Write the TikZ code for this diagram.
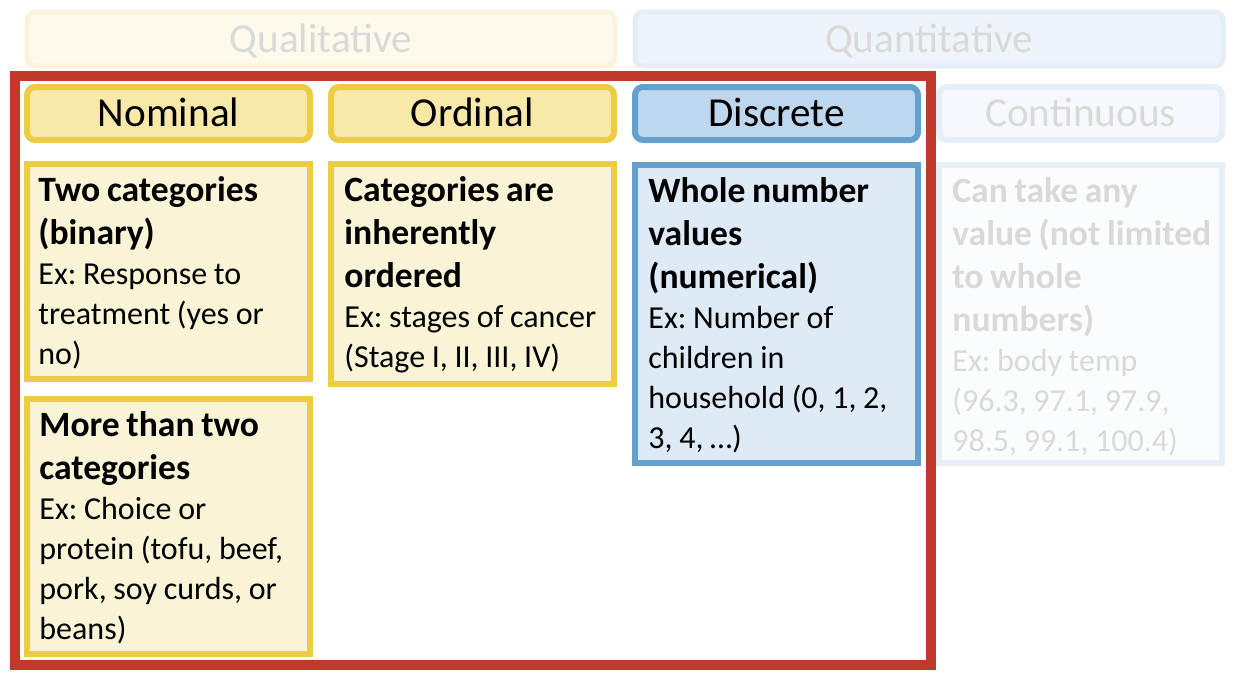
\documentclass[tikz,border=0pt]{standalone}
\usepackage{fontspec}
\setmainfont{Carlito}
\usepackage{xcolor}
\usetikzlibrary{positioning}
\frenchspacing
\definecolor{gold}{RGB}{237,204,69}
\definecolor{goldfill}{RGB}{248,233,169}
\definecolor{goldpale}{RGB}{250,244,214}
\definecolor{steel}{RGB}{101,159,205}
\definecolor{steelfill}{RGB}{189,215,238}
\definecolor{steelpale}{RGB}{222,235,247}
\definecolor{brick}{RGB}{192,57,43}
\definecolor{qualline}{RGB}{251,244,220}
\definecolor{qualfill}{RGB}{253,249,235}
\definecolor{quanline}{RGB}{229,237,247}
\definecolor{quanfill}{RGB}{239,244,250}
\definecolor{contline}{RGB}{230,238,247}
\definecolor{contfill}{RGB}{245,248,252}
\definecolor{contpale}{RGB}{250,252,254}
\definecolor{fadetext}{RGB}{217,217,217}
\newcommand{\boldpart}[1]{{\bfseries\fontsize{17.8}{21.5}\selectfont #1\par}}
\newcommand{\expart}[1]{{\fontsize{16}{20}\selectfont #1\par}}

\begin{document}
\begin{tikzpicture}[x=0.5pt, y=-0.5pt, node distance={152pt}, on grid=true,
  head/.style = {draw, rounded corners=4pt, line width=3pt, outer sep=0pt, inner sep=0pt,
    minimum width=141.5pt, minimum height=26.5pt,
    font=\fontsize{20.6}{24}\selectfont, text height=13.2pt, text depth=0pt},
  cell/.style = {draw, line width=3pt, outer sep=0pt, inner sep=0pt,
    minimum width=141.5pt, anchor=north},
  celltext/.style = {anchor=base west, inner sep=0pt, text width=138pt, align=left},
  yel/.style = {draw=gold, fill=goldfill},
  yelpale/.style = {draw=gold, fill=goldpale},
  blu/.style = {draw=steel, fill=steelfill},
  blupale/.style = {draw=steel, fill=steelpale}]
  \useasboundingbox (0,0) rectangle (1233,680);

  \node[head, draw=qualline, fill=qualfill, line width=2.5pt, text=fadetext,
    minimum width=294pt, minimum height=27pt] (qual) at (321,39) {Qualitative};
  \node[head, draw=quanline, fill=quanfill, line width=2.5pt, text=fadetext,
    minimum width=294pt, minimum height=27pt] (quan) [right of=qual, node distance=304pt] {Quantitative};

  \node[head,yel] (nom) at (168.5,113.5) {Nominal};
  \node[head,yel] (ord) [right of=nom] {Ordinal};
  \node[head,blu] (disc) [right of=ord] {Discrete};
  \node[head,draw=contline,fill=contfill,text=fadetext] (cont) [right of=disc] {Continuous};

  \node[cell,yelpale,minimum height=107.5pt] (nomA) at ([yshift=-11.75pt]nom.south) {};
  \node[cell,yelpale,minimum height=127.5pt] (nomB) at ([yshift=-10pt]nomA.south) {};
  \node[cell,yelpale,minimum height=110pt] (ordA) at ([yshift=-11.75pt]ord.south) {};
  \node[cell,blupale,minimum height=149pt] (discA) at ([yshift=-12.25pt]disc.south) {};
  \node[cell,draw=contline,fill=contpale,minimum height=149pt] (contA) at ([yshift=-12.25pt]cont.south) {};

  \node[celltext] (nomAtxt) at ([xshift=5.5pt,yshift=-18.75pt]nomA.north west)
    {\boldpart{Two categories\\(binary)}\expart{Ex: Response to\\treatment (yes or\\no)}};
  \node[celltext] (nomBtxt) at ([xshift=6pt,yshift=-18.75pt]nomB.north west)
    {\boldpart{More than two\\categories}\expart{Ex: Choice or\\protein (tofu, beef,\\pork, soy curds, or\\beans)}};
  \node[celltext] (ordAtxt) at ([xshift=6.5pt,yshift=-18.75pt]ordA.north west)
    {\boldpart{Categories are\\inherently\\ordered}\expart{Ex: stages of cancer\\(Stage I, II, III, IV)}};
  \node[celltext] (discAtxt) at ([xshift=6.5pt,yshift=-19pt]discA.north west)
    {\boldpart{Whole number\\values\\(numerical)}\expart{Ex: Number of\\children in\\household (0, 1, 2,\\3, 4, …)}};
  \node[celltext,text=fadetext] (contAtxt) at ([xshift=6.5pt,yshift=-19pt]contA.north west)
    {\boldpart{Can take any\\value (not limited\\to whole\\numbers)}\expart{Ex: body temp\\(96.3, 97.1, 97.9,\\98.5, 99.1, 100.4)}};

  % qualitative part picked out
  \draw[brick, line width=4.75pt] (15,76) rectangle (931,665);
\end{tikzpicture}
\end{document}
